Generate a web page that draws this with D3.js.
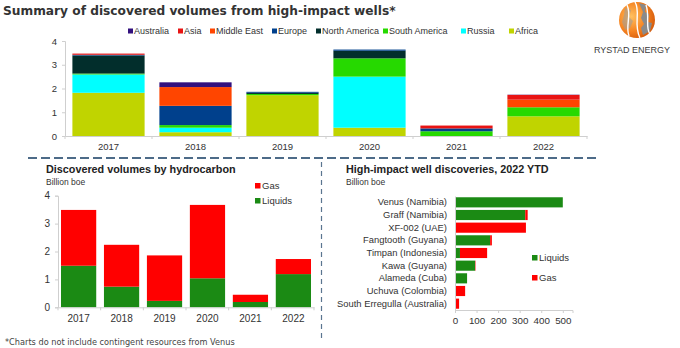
<!DOCTYPE html>
<html>
<head>
<meta charset="utf-8">
<script src="https://cdn.jsdelivr.net/npm/d3@7"></script>
<style>
  body { margin: 0; background: #fff; }
  svg text { font-family: "Liberation Sans", Arial, sans-serif; fill: #333; }
</style>
</head>
<body>
<svg id="chart" width="680" height="348"></svg>
<script>
// ---------------------------------------------------------------
// Data
// ---------------------------------------------------------------
const years = ['2017', '2018', '2019', '2020', '2021', '2022']

// legend order (left to right); stacks go bottom-up in reverse
const regions = ['Australia', 'Asia', 'Middle East', 'Europe', 'North America', 'South America', 'Russia', 'Africa']
const regionColors = ['#32107e', '#e81414', '#ff4500', '#00408c', '#022e2c', '#26d900', '#00ffff', '#c0d400']

const africa       = [1.82, 0.16, 1.72, 0.35, 0.00, 0.83]
const russia       = [0.77, 0.19, 0.00, 2.15, 0.00, 0.00]
const southAmerica = [0.04, 0.11, 0.05, 0.77, 0.20, 0.38]
const northAmerica = [0.76, 0.00, 0.05, 0.32, 0.00, 0.00]
const europe       = [0.03, 0.81, 0.04, 0.05, 0.12, 0.00]
const middleEast   = [0.00, 0.79, 0.00, 0.00, 0.00, 0.32]
const asia         = [0.05, 0.00, 0.00, 0.00, 0.12, 0.20]
const australia    = [0.00, 0.20, 0.00, 0.00, 0.00, 0.01]

const regionValues = [australia, asia, middleEast, europe, northAmerica, southAmerica, russia, africa]

// by hydrocarbon, billion boe
const liquidsByYear = [1.49, 0.74, 0.23, 1.04, 0.19, 1.19]
const gasByYear     = [2.00, 1.50, 1.63, 2.63, 0.26, 0.54]

// 2022 YTD wells, million boe
const wells = ['Venus (Namibia)', 'Graff (Namibia)', 'XF-002 (UAE)', 'Fangtooth (Guyana)', 'Timpan (Indonesia)',
  'Kawa (Guyana)', 'Alameda (Cuba)', 'Uchuva (Colombia)', 'South Erregulla (Australia)']
const wellLiquids = [500, 326, 0, 163, 23, 93, 56, 0, 0]
const wellGas     = [0, 11, 329, 8, 126, 2, 0, 47, 19]

const yTicksTop = [0, 1, 2, 3, 4]
const yTicksLeft = [0, 1, 2, 3, 4]
const xTicksRight = [0, 100, 200, 300, 400, 500]

const gasColor = '#ff0000'
const liquidsColor = '#1b8a14'
const axisColor = '#cfcfcf'

const svg = d3.select('#chart')

// ---------------------------------------------------------------
// Header
// ---------------------------------------------------------------
svg.append('text')
  .attr('x', 3).attr('y', 15)
  .style('font-family', '"DejaVu Sans", Verdana, sans-serif')
  .style('font-weight', 'bold')
  .style('font-size', '12.2px')
  .style('fill', '#333')
  .text('Summary of discovered volumes from high-impact wells*')

// logo: orange globe + wordmark
const logo = svg.append('g').attr('transform', 'translate(637,20)')
const grad = svg.append('defs').append('radialGradient')
  .attr('id', 'globe').attr('cx', '35%').attr('cy', '40%').attr('r', '70%')
grad.append('stop').attr('offset', '0%').attr('stop-color', '#ffc060')
grad.append('stop').attr('offset', '60%').attr('stop-color', '#f58220')
grad.append('stop').attr('offset', '100%').attr('stop-color', '#d2580a')
logo.append('circle').attr('r', 18).attr('fill', 'url(#globe)')
logo.append('path')
  .attr('d', 'M2,-17 L9,-15 L8,-8 L12,-6 L11,2 L15,3 L13,11 L6,15 L4,8 L7,4 L4,-2 L6,-8 Z')
  .attr('fill', '#8a8a8a')
logo.append('path')
  .attr('d', 'M-12,-12 L-6,-10 L-8,-3 L-4,1 L-7,8 L-12,10 L-15,2 L-13,-5 Z')
  .attr('fill', '#9a9a9a').attr('opacity', 0.55)
logo.append('path')
  .attr('d', 'M-2,-18 C4,-8 -4,4 3,18 M9,-15 C13,-4 8,8 13,14 M-10,-15 C-5,-5 -12,6 -8,16')
  .attr('fill', 'none').attr('stroke', '#fff').attr('stroke-width', 1.4)
svg.append('text')
  .attr('x', 632).attr('y', 53)
  .attr('text-anchor', 'middle')
  .style('font-size', '9px')
  .style('fill', '#3a3a3a')
  .text('RYSTAD ENERGY')

// ---------------------------------------------------------------
// Top: stacked by region
// ---------------------------------------------------------------
const topX = d3.scaleBand().domain(years).range([65, 587]).paddingInner(0.17).paddingOuter(0.085)
const topY = d3.scaleLinear().domain([0, 4]).range([136, 41])

const stackRows = years.map((y, i) => {
  const row = { year: y }
  regions.forEach((r, j) => { row[r] = regionValues[j][i] })
  return row
})
const stackKeys = regions.slice().reverse()
const series = d3.stack().keys(stackKeys)(stackRows)
const colorOf = d3.scaleOrdinal().domain(regions).range(regionColors)

const gTop = svg.append('g')
gTop.selectAll('g.layer')
  .data(series)
  .join('g')
  .attr('class', 'layer')
  .attr('fill', d => colorOf(d.key))
  .selectAll('rect')
  .data(d => d)
  .join('rect')
  .attr('x', d => topX(d.data.year))
  .attr('width', topX.bandwidth())
  .attr('y', d => topY(d[1]))
  .attr('height', d => Math.max(0, topY(d[0]) - topY(d[1])))

gTop.append('g')
  .attr('transform', 'translate(65,0)')
  .call(d3.axisLeft(topY).tickValues(yTicksTop).tickSize(3).tickPadding(5).tickFormat(d3.format('d')))
const topXAxis = gTop.append('g')
  .attr('transform', 'translate(0,136)')
  .call(d3.axisBottom(topX).tickSize(0).tickPadding(7))
// Excel-style ticks between categories
topXAxis.selectAll('.sep')
  .data(d3.range(years.length + 1))
  .join('line')
  .attr('class', 'sep')
  .attr('x1', i => 65 + i * (522 / years.length))
  .attr('x2', i => 65 + i * (522 / years.length))
  .attr('y1', 0).attr('y2', 3)
  .attr('stroke', axisColor)

// legend row
const legendX = [128, 178, 210, 272, 316, 383, 461, 509]
const leg = svg.append('g').attr('transform', 'translate(0,34)')
regions.forEach((r, i) => {
  leg.append('rect').attr('x', legendX[i]).attr('y', -5.5).attr('width', 5).attr('height', 5).attr('fill', regionColors[i])
  leg.append('text').attr('x', legendX[i] + 6).attr('y', 0).style('font-size', '9px').text(r)
})

// ---------------------------------------------------------------
// Separators
// ---------------------------------------------------------------
svg.append('line')
  .attr('x1', 28).attr('x2', 600).attr('y1', 158).attr('y2', 158)
  .attr('stroke', '#4d6b88').attr('stroke-width', 2).attr('stroke-dasharray', '9,4')
svg.append('line')
  .attr('x1', 321.5).attr('x2', 321.5).attr('y1', 162).attr('y2', 340)
  .attr('stroke', '#5a7590').attr('stroke-width', 1.2).attr('stroke-dasharray', '5,4')

// ---------------------------------------------------------------
// Bottom left: by hydrocarbon
// ---------------------------------------------------------------
const gLeft = svg.append('g')
gLeft.append('text').attr('x', 46).attr('y', 173)
  .style('font-weight', 'bold').style('font-size', '10.8px').style('fill', '#222')
  .text('Discovered volumes by hydrocarbon')
gLeft.append('text').attr('x', 46).attr('y', 185).style('font-size', '8.5px').text('Billion boe')

const leftX = d3.scaleBand().domain(years).range([58, 314]).paddingInner(0.18).paddingOuter(0.07)
const leftY = d3.scaleLinear().domain([0, 4]).range([307.3, 195.7])

gLeft.selectAll('rect.liq')
  .data(years)
  .join('rect')
  .attr('class', 'liq')
  .attr('x', d => leftX(d))
  .attr('width', leftX.bandwidth())
  .attr('y', (d, i) => leftY(liquidsByYear[i]))
  .attr('height', (d, i) => leftY(0) - leftY(liquidsByYear[i]))
  .attr('fill', liquidsColor)
gLeft.selectAll('rect.gas')
  .data(years)
  .join('rect')
  .attr('class', 'gas')
  .attr('x', d => leftX(d))
  .attr('width', leftX.bandwidth())
  .attr('y', (d, i) => leftY(liquidsByYear[i] + gasByYear[i]))
  .attr('height', (d, i) => leftY(liquidsByYear[i]) - leftY(liquidsByYear[i] + gasByYear[i]))
  .attr('fill', gasColor)

gLeft.append('g')
  .attr('transform', 'translate(58,0)')
  .call(d3.axisLeft(leftY).tickValues(yTicksLeft).tickSize(3).tickPadding(5).tickFormat(d3.format('d')))
const leftXAxis = gLeft.append('g')
  .attr('transform', 'translate(0,307.3)')
  .call(d3.axisBottom(leftX).tickSize(0).tickPadding(8))
leftXAxis.selectAll('.sep')
  .data(d3.range(years.length + 1))
  .join('line')
  .attr('class', 'sep')
  .attr('x1', i => 58 + i * (256 / years.length))
  .attr('x2', i => 58 + i * (256 / years.length))
  .attr('y1', 0).attr('y2', 3)
  .attr('stroke', axisColor)

const leftLegend = [['Gas', gasColor, 189], ['Liquids', liquidsColor, 204]]
leftLegend.forEach(([name, col, y]) => {
  gLeft.append('rect').attr('x', 255).attr('y', y - 6).attr('width', 5.5).attr('height', 5.5).attr('fill', col)
  gLeft.append('text').attr('x', 262).attr('y', y).style('font-size', '9.5px').text(name)
})

svg.append('text').attr('x', 5).attr('y', 345)
  .style('font-family', '"DejaVu Sans", Verdana, sans-serif')
  .style('font-size', '8.2px').style('fill', '#444')
  .text('*Charts do not include contingent resources from Venus')

// ---------------------------------------------------------------
// Bottom right: 2022 YTD wells
// ---------------------------------------------------------------
const gRight = svg.append('g')
gRight.append('text').attr('x', 346).attr('y', 173)
  .style('font-weight', 'bold').style('font-size', '10.8px').style('fill', '#222')
  .text('High-impact well discoveries, 2022 YTD')
gRight.append('text').attr('x', 346).attr('y', 185).style('font-size', '8.5px').text('Billion boe')

const rightY = d3.scaleBand().domain(wells).range([196, 310]).paddingInner(0.2).paddingOuter(0.1)
const rightX = d3.scaleLinear().domain([0, 545]).range([455, 572.5])

gRight.selectAll('rect.liq')
  .data(wells)
  .join('rect')
  .attr('class', 'liq')
  .attr('y', d => rightY(d))
  .attr('height', rightY.bandwidth())
  .attr('x', rightX(0))
  .attr('width', (d, i) => rightX(wellLiquids[i]) - rightX(0))
  .attr('fill', liquidsColor)
gRight.selectAll('rect.gas')
  .data(wells)
  .join('rect')
  .attr('class', 'gas')
  .attr('y', d => rightY(d))
  .attr('height', rightY.bandwidth())
  .attr('x', (d, i) => rightX(wellLiquids[i]))
  .attr('width', (d, i) => rightX(wellLiquids[i] + wellGas[i]) - rightX(wellLiquids[i]))
  .attr('fill', gasColor)

const rightYAxis = gRight.append('g')
  .attr('transform', 'translate(455,0)')
  .call(d3.axisLeft(rightY).tickSize(0).tickPadding(8))
gRight.append('g')
  .attr('transform', 'translate(0,310)')
  .call(d3.axisBottom(rightX).tickValues(xTicksRight).tickSize(3).tickPadding(4))

const rightLegend = [['Liquids', liquidsColor, 261], ['Gas', gasColor, 281]]
rightLegend.forEach(([name, col, y]) => {
  gRight.append('rect').attr('x', 532).attr('y', y - 6).attr('width', 5.5).attr('height', 5.5).attr('fill', col)
  gRight.append('text').attr('x', 539).attr('y', y).style('font-size', '9.5px').text(name)
})

// shared axis styling
svg.selectAll('.domain').attr('stroke', axisColor)
svg.selectAll('.tick line').attr('stroke', axisColor)
svg.selectAll('.tick text').style('font-size', '10px').style('fill', '#333')
gTop.selectAll('.tick text').style('font-size', '9.5px')
gRight.selectAll('.tick text').style('font-size', '9.8px')
rightYAxis.selectAll('.tick text').style('font-size', '9.4px')
</script>
</body>
</html>
